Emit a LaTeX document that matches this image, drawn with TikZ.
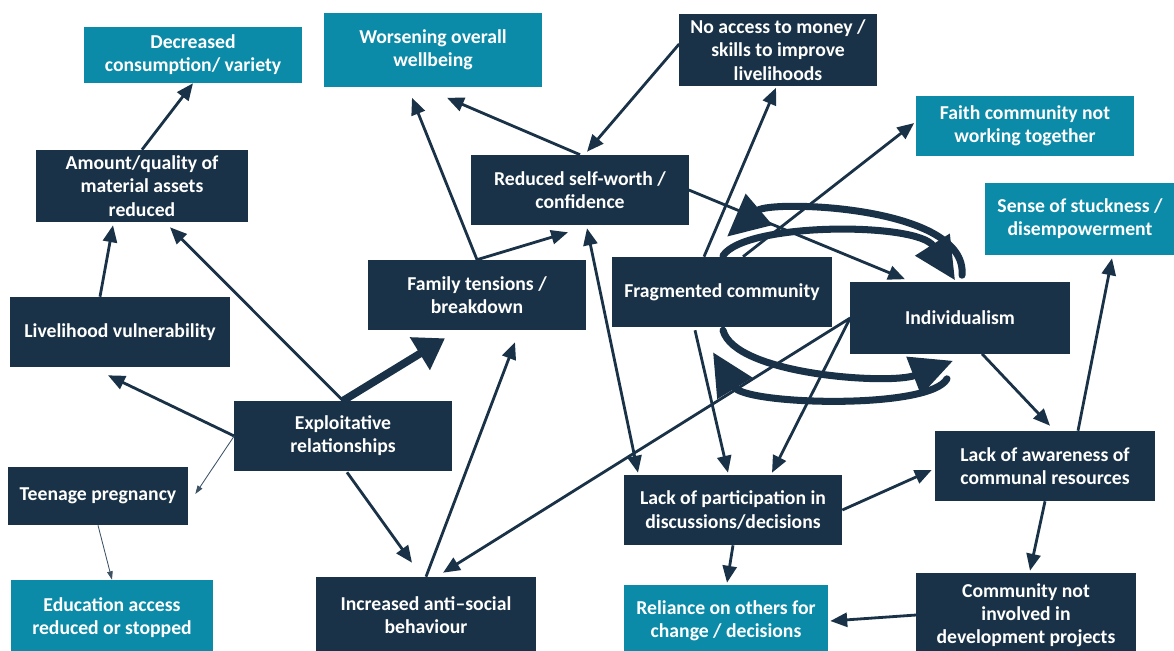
\documentclass[tikz,border=0pt]{standalone}
\usepackage{fontspec}
\setmainfont{Carlito}
\usetikzlibrary{arrows.meta,calc}
\definecolor{NavyBox}{HTML}{1A3247}
\definecolor{TealBox}{HTML}{0B8BA8}

\begin{document}
\begin{tikzpicture}[
    x=0.025cm, y=-0.025cm,
    every node/.style={font=\fontsize{14}{16.5}\selectfont\bfseries},
    dbox/.style={fill=NavyBox,text=white,align=center,inner sep=0pt},
    tbox/.style={fill=TealBox,text=white,align=center,inner sep=0pt},
    arr/.style={-{Triangle[length=12pt,width=10pt]},NavyBox,line width=2pt},
    thinarr/.style={-{Triangle[length=6pt,width=4pt]},NavyBox!85,line width=0.6pt},
    bigarr/.style={-{Triangle[length=21pt,width=26pt]},NavyBox,line width=5.5pt},
    looparr/.style={-{Triangle[length=30pt,width=28pt]},NavyBox,line width=5pt,line cap=round}
  ]
  \useasboundingbox (0,0) rectangle (1174,650);

  \node[tbox,minimum width=5.45cm,minimum height=1.4cm] (cons) at (193,55) {Decreased\\consumption/ variety};
  \node[tbox,minimum width=5.425cm,minimum height=1.825cm] (wellb) at (433,50) {Worsening overall\\wellbeing};
  \node[dbox,minimum width=4.925cm,minimum height=1.775cm] (money) at (778,50) {No access to money /\\skills to improve\\livelihoods};
  \node[tbox,minimum width=5.425cm,minimum height=1.475cm] (faith) at (1025,126) {Faith community not\\working together};
  \node[tbox,minimum width=4.75cm,minimum height=1.8cm] (stuck) at (1080,219) {Sense of stuckness /\\disempowerment};
  \node[dbox,minimum width=5.275cm,minimum height=1.8cm] (assets) at (142,186) {Amount/quality of\\material assets\\reduced};
  \node[dbox,minimum width=5.425cm,minimum height=1.75cm] (selfw) at (580,190) {Reduced self-worth /\\confidence};
  \node[dbox,minimum width=5.425cm,minimum height=1.75cm] (family) at (477,295) {Family tensions /\\breakdown};
  \node[dbox,minimum width=5.475cm,minimum height=1.75cm] (frag) at (722,292) {Fragmented community};
  \node[dbox,minimum width=5.475cm,minimum height=1.775cm] (indiv) at (960,318) {Individualism};
  \node[dbox,minimum width=5.475cm,minimum height=1.75cm] (livel) at (120,332) {Livelihood vulnerability};
  \node[dbox,minimum width=5.425cm,minimum height=1.75cm] (exploit) at (343,436) {Exploitative\\relationships};
  \node[dbox,minimum width=4.5cm,minimum height=1.45cm] (teen) at (98,496) {Teenage pregnancy};
  \node[dbox,minimum width=5.5cm,minimum height=1.75cm] (aware) at (1045,466) {Lack of awareness of\\communal resources};
  \node[dbox,minimum width=5.45cm,minimum height=1.75cm] (partic) at (733,510) {Lack of participation in\\discussions/decisions};
  \node[tbox,minimum width=5.05cm,minimum height=1.9cm] (educ) at (112,618) {Education access\\reduced or stopped};
  \node[dbox,minimum width=5.475cm,minimum height=1.9cm] (antis) at (426,615) {Increased anti--social\\behaviour};
  \node[tbox,minimum width=5.1cm,minimum height=1.8cm] (reliance) at (726,621) {Reliance on others for\\change / decisions};
  \node[dbox,minimum width=5.475cm,minimum height=2.1cm] (notinv) at (1026,615) {Community not\\involved in\\development projects};

  \draw[arr] (assets.north) -- (cons.south);
  \draw[arr] ($(livel.north)+(-20,0)$) -- ($(assets.south)+(-29,3)$);
  \draw[arr] (exploit.north) -- ($(assets.south)+(28,5)$);
  \draw[arr] (exploit.west) -- ($(livel.south)+(-12,8)$);
  \draw[thinarr] (exploit.west) -- ($(teen.east)+(7,-2)$);
  \draw[thinarr] (teen.south) -- (educ.north);
  \draw[bigarr] (exploit.north) -- ($(family.south)+(-32,8)$);
  \draw[arr] ($(exploit.south)+(4,1)$) -- ($(antis.north)+(-14,-14)$);
  \draw[arr] (antis.north) -- ($(family.south)+(38,12)$);
  \draw[arr] (indiv.west) -- ($(antis.north)+(17,-4)$);
  \draw[arr] (family.north) -- ($(wellb.south)+(-21,11)$);
  \draw[arr] (family.north) -- ($(selfw.south)+(-12,7)$);
  \draw[arr] (selfw.north) -- ($(wellb.south)+(14,11)$);
  \draw[arr] ($(money.west)+(0,-6)$) -- ($(selfw.north)+(7,-3)$);
  \draw[arr] ($(frag.north)+(-18,0)$) -- ($(money.south)+(-2,2)$);
  \draw[arr] ($(frag.north)+(21,0)$) -- ($(faith.west)+(-2,-3)$);
  \draw[arr] (selfw.east) -- ($(indiv.north)+(-55,-3)$);
  \draw[arr] ($(indiv.south)+(22,0)$) -- ($(aware.north)+(5,-5)$);
  \draw[arr] ($(aware.north)+(33,0)$) -- ($(stuck.south)+(32,3)$);
  \draw[arr] (aware.south) -- ($(notinv.north)+(4,-2)$);
  \draw[arr] (notinv.west) -- ($(reliance.east)+(2,0)$);
  \draw[arr] (partic.south) -- ($(reliance.north)+(1,-2)$);
  \draw[arr] (partic.east) -- ($(aware.west)+(-3,4)$);
  \draw[arr,{Triangle[length=12pt,width=10pt]}-{Triangle[length=12pt,width=10pt]}] ($(selfw.south)+(7,3)$) -- ($(partic.north)+(-95,-2)$);
  \draw[arr] ($(frag.south)+(-27,3)$) -- ($(partic.north)+(-5,-2)$);
  \draw[arr] (indiv.west) -- ($(partic.north)+(39,-2)$);

  \draw[looparr] ($(frag.north)+(1,-1)$) .. controls (745,222) and (918,222) .. ($(indiv.north)+(-5,-2)$);
  \draw[looparr] ($(indiv.north)+(2,-7)$) .. controls (968,205) and (770,200) .. ($(frag.north)+(5,-20)$);
  \draw[looparr] ($(frag.south)+(1,3)$) .. controls (735,375) and (890,385) .. ($(indiv.south)+(-7,7)$);
  \draw[looparr] ($(indiv.south)+(-13,25)$) .. controls (930,410) and (745,405) .. ($(frag.south)+(-9,25)$);
\end{tikzpicture}
\end{document}
